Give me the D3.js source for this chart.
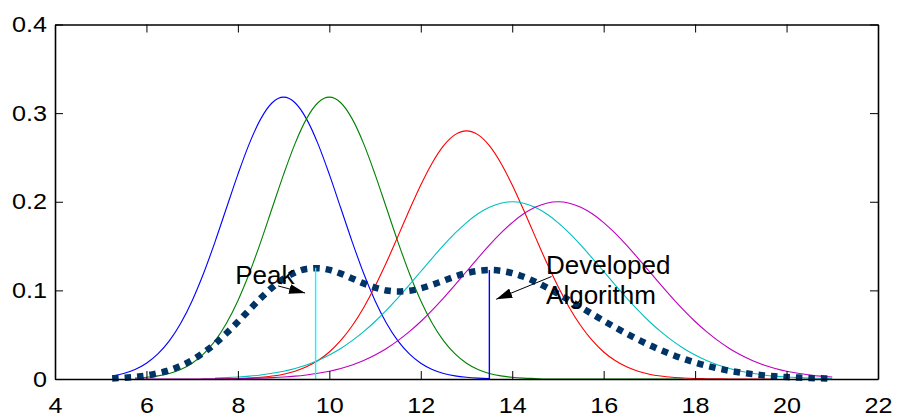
<!DOCTYPE html>
<html>
<head>
<meta charset="utf-8">
<script src="https://cdn.jsdelivr.net/npm/d3@7"></script>
<style>
  html, body { margin: 0; padding: 0; background: #ffffff; }
  svg { display: block; }
  .axis text { font-family: "Liberation Sans", Arial, Helvetica, sans-serif; font-size: 22.5px; fill: #000; }
  .axis path, .axis line { stroke: #000; }
  .note { font-family: "Liberation Sans", Arial, Helvetica, sans-serif; font-size: 26px; fill: #000; }
</style>
</head>
<body>
<svg id="chart" width="897" height="417"></svg>
<script>
// Sample positions shared by every curve
const sampleX = [
  5.25, 5.5, 5.75, 6, 6.25, 6.5, 6.75, 7, 7.25, 7.5, 7.75, 8, 8.25, 8.5, 8.75, 9,
  9.25, 9.5, 9.75, 10, 10.25, 10.5, 10.75, 11, 11.25, 11.5, 11.75, 12, 12.25, 12.5, 12.75, 13,
  13.25, 13.5, 13.75, 14, 14.25, 14.5, 14.75, 15, 15.25, 15.5, 15.75, 16, 16.25, 16.5, 16.75, 17,
  17.25, 17.5, 17.75, 18, 18.25, 18.5, 18.75, 19, 19.25, 19.5, 19.75, 20, 20.25, 20.5, 20.75, 21
];

// Individual distributions (null = not sampled there)
const blueCurve = [
  0.0035, 0.0063, 0.0108, 0.0178, 0.0283, 0.0430, 0.0629, 0.0884, 0.1193, 0.1548, 0.1929, 0.2309, 0.2656, 0.2935, 0.3117, 0.318,
  0.3117, 0.2935, 0.2656, 0.2309, 0.1929, 0.1548, 0.1193, 0.0884, 0.0629, 0.0430, 0.0283, 0.0178, 0.0108, 0.0063, 0.0035, 0.0019,
  0.0010, 0.0005, null, null, null, null, null, null, null, null, null, null, null, null, null, null,
  null, null, null, null, null, null, null, null, null, null, null, null, null, null, null, null
];
const greenCurve = [
  null, null, 0.0010, 0.0019, 0.0035, 0.0063, 0.0108, 0.0178, 0.0283, 0.0430, 0.0629, 0.0884, 0.1193, 0.1548, 0.1929, 0.2309,
  0.2656, 0.2935, 0.3117, 0.318, 0.3117, 0.2935, 0.2656, 0.2309, 0.1929, 0.1548, 0.1193, 0.0884, 0.0629, 0.0430, 0.0283, 0.0178,
  0.0108, 0.0063, 0.0035, 0.0019, 0.0010, 0.0005, 0, 0, 0, 0, 0, 0, 0, 0, 0, 0,
  0, 0, 0, null, null, null, null, null, null, null, null, null, null, null, null, null
];
const redCurve = [
  null, null, null, null, null, null, null, null, null, 0.0002, 0.0003, 0.0006, 0.0011, 0.0019, 0.0033, 0.0054,
  0.0088, 0.0137, 0.0208, 0.0305, 0.0435, 0.0601, 0.0805, 0.1046, 0.1317, 0.1609, 0.1906, 0.2189, 0.2438, 0.2633, 0.2757, 0.28,
  0.2757, 0.2633, 0.2438, 0.2189, 0.1906, 0.1609, 0.1317, 0.1046, 0.0805, 0.0601, 0.0435, 0.0305, 0.0208, 0.0137, 0.0088, 0.0054,
  0.0033, 0.0019, 0.0011, 0.0006, 0.0003, 0.0002, 0, 0, 0, 0, 0, null, null, null, null, null
];
const cyanCurve = [
  null, null, null, null, null, null, null, null, null, 0.0010, 0.0015, 0.0022, 0.0032, 0.0046, 0.0064, 0.0088,
  0.0119, 0.0159, 0.0209, 0.0271, 0.0345, 0.0433, 0.0534, 0.0649, 0.0777, 0.0916, 0.1062, 0.1213, 0.1364, 0.1510, 0.1645, 0.1765,
  0.1864, 0.1938, 0.1984, 0.2, 0.1984, 0.1938, 0.1864, 0.1765, 0.1645, 0.1510, 0.1364, 0.1213, 0.1062, 0.0916, 0.0777, 0.0649,
  0.0534, 0.0433, 0.0345, 0.0271, 0.0209, 0.0159, 0.0119, 0.0088, 0.0064, 0.0046, 0.0032, 0.0022, 0.0015, 0.0010, 0.0007, 0.0004
];
const magentaCurve = [
  null, null, 0, 0, 0, 0, 0, 0, 0.0001, 0.0002, 0.0003, 0.0004, 0.0007, 0.0010, 0.0015, 0.0022,
  0.0032, 0.0046, 0.0064, 0.0088, 0.0119, 0.0159, 0.0209, 0.0271, 0.0345, 0.0433, 0.0534, 0.0649, 0.0777, 0.0916, 0.1062, 0.1213,
  0.1364, 0.1510, 0.1645, 0.1765, 0.1864, 0.1938, 0.1984, 0.2, 0.1984, 0.1938, 0.1864, 0.1765, 0.1645, 0.1510, 0.1364, 0.1213,
  0.1062, 0.0916, 0.0777, 0.0649, 0.0534, 0.0433, 0.0345, 0.0271, 0.0209, 0.0159, 0.0119, 0.0088, 0.0064, 0.0046, 0.0032, 0.0022
];
// Combined estimate (heavy dotted curve)
const combinedCurve = [
  0.0007, 0.0014, 0.0024, 0.0039, 0.0064, 0.0099, 0.0148, 0.0213, 0.0297, 0.0398, 0.0516, 0.0645, 0.0780, 0.0912, 0.1032, 0.1131,
  0.1202, 0.1242, 0.1251, 0.1231, 0.1189, 0.1135, 0.1079, 0.1032, 0.0999, 0.0987, 0.0996, 0.1023, 0.1063, 0.1110, 0.1156, 0.1195,
  0.1221, 0.1230, 0.1221, 0.1195, 0.1153, 0.1098, 0.1033, 0.0962, 0.0887, 0.0810, 0.0733, 0.0657, 0.0583, 0.0513, 0.0446, 0.0383,
  0.0326, 0.0274, 0.0227, 0.0185, 0.0149, 0.0119, 0.0093, 0.0072, 0.0055, 0.0041, 0.0030, 0.0022, 0.0016, 0.0011, 0.0008, 0.0005
];

// Detected peaks of the combined curve
const peakX = [9.7, 13.5];
const peakY = [0.1255, 0.123];

// Axis ticks
const xTicks = [4, 6, 8, 10, 12, 14, 16, 18, 20, 22];
const xTickLabels = ["4", "6", "8", "10", "12", "14", "16", "18", "20", "22"];
const yTicks = [0, 0.1, 0.2, 0.3, 0.4];
const yTickLabels = ["0", "0.1", "0.2", "0.3", "0.4"];

const svg = d3.select("#chart");
const plotLeft = 55, plotRight = 878, plotTop = 24.5, plotBottom = 379;
const labelStretch = 1.12;

const x = d3.scaleLinear().domain([4, 22]).range([plotLeft, plotRight]);
const y = d3.scaleLinear().domain([0, 0.4]).range([plotBottom, plotTop]);

const series = [
  { values: blueCurve, color: "#0000ff" },
  { values: greenCurve, color: "#008000" },
  { values: redCurve, color: "#ff0000" },
  { values: cyanCurve, color: "#00bfbf" },
  { values: magentaCurve, color: "#bf00bf" }
];

const line = d3.line()
  .defined(d => d[1] !== null)
  .x(d => x(d[0]))
  .y(d => y(d[1]))
  .curve(d3.curveMonotoneX);

const plot = svg.append("g");

series.forEach(s => {
  plot.append("path")
    .datum(sampleX.map((v, i) => [v, s.values[i]]))
    .attr("d", line)
    .attr("fill", "none")
    .attr("stroke", s.color)
    .attr("stroke-width", 1.1);
});

plot.append("path")
  .datum(sampleX.map((v, i) => [v, combinedCurve[i]]))
  .attr("d", line)
  .attr("fill", "none")
  .attr("stroke", "#003366")
  .attr("stroke-width", 6.5)
  .attr("stroke-dasharray", "6.5,6")
  .attr("stroke-linecap", "butt");

// Peak markers
const peakColors = ["#00ffff", "#0000ff"];
peakX.forEach((px, i) => {
  plot.append("line")
    .attr("x1", x(px)).attr("x2", x(px))
    .attr("y1", y(0)).attr("y2", y(peakY[i]))
    .attr("stroke", peakColors[i])
    .attr("stroke-width", 1.4);
});

// Axes: box with inward ticks on every side
const axB = svg.append("g").attr("class", "axis").attr("transform", `translate(0,${plotBottom})`)
  .call(d3.axisBottom(x).tickValues(xTicks).tickFormat((d, i) => xTickLabels[i])
    .tickSizeInner(-8).tickSizeOuter(0).tickPadding(18));
const axT = svg.append("g").attr("class", "axis").attr("transform", `translate(0,${plotTop})`)
  .call(d3.axisTop(x).tickValues(xTicks).tickFormat("").tickSizeInner(-8).tickSizeOuter(0));
const axL = svg.append("g").attr("class", "axis").attr("transform", `translate(${plotLeft},0)`)
  .call(d3.axisLeft(y).tickValues(yTicks).tickFormat((d, i) => yTickLabels[i])
    .tickSizeInner(-8).tickSizeOuter(0).tickPadding(8));
const axR = svg.append("g").attr("class", "axis").attr("transform", `translate(${plotRight},0)`)
  .call(d3.axisRight(y).tickValues(yTicks).tickFormat("").tickSizeInner(-8).tickSizeOuter(0));
[axB, axT, axL, axR].forEach(a => {
  a.select(".domain").attr("stroke-width", 1.6);
  a.selectAll(".tick line").attr("stroke-width", 1);
});
axT.select(".domain").attr("stroke-width", 1.3);

// Slightly wide tick lettering
axB.selectAll(".tick text").attr("transform", `scale(${labelStretch},1)`);
axL.selectAll(".tick text")
  .attr("x", -8 / labelStretch)
  .attr("transform", `scale(${labelStretch},1)`);

// Annotations
svg.append("defs").append("marker")
  .attr("id", "arrowhead")
  .attr("markerUnits", "userSpaceOnUse")
  .attr("viewBox", "0 0 16 10")
  .attr("refX", 16).attr("refY", 5)
  .attr("markerWidth", 16).attr("markerHeight", 10)
  .attr("orient", "auto")
  .append("path")
  .attr("d", "M0,0 L16,5 L0,10 Z")
  .attr("fill", "#000");

const notes = svg.append("g");
notes.append("text").attr("class", "note")
  .attr("x", x(7.94)).attr("y", y(0.107)).text("Peak");
notes.append("line")
  .attr("x1", x(8.88)).attr("y1", y(0.105))
  .attr("x2", x(9.47)).attr("y2", y(0.097))
  .attr("stroke", "#000").attr("stroke-width", 1)
  .attr("marker-end", "url(#arrowhead)");

notes.append("text").attr("class", "note")
  .attr("x", x(14.74)).attr("y", y(0.1186)).text("Developed");
notes.append("text").attr("class", "note")
  .attr("x", x(14.74)).attr("y", y(0.0847)).text("Algorithm");
notes.append("line")
  .attr("x1", x(14.86)).attr("y1", y(0.1156))
  .attr("x2", x(13.65)).attr("y2", y(0.090))
  .attr("stroke", "#000").attr("stroke-width", 1)
  .attr("marker-end", "url(#arrowhead)");
</script>
</body>
</html>
